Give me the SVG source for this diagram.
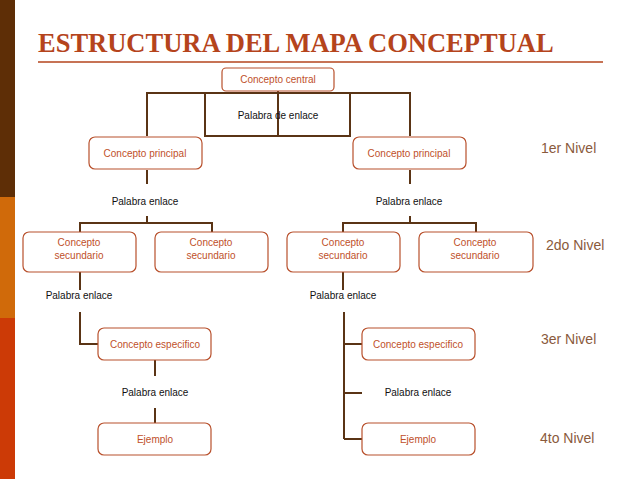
<svg xmlns="http://www.w3.org/2000/svg" width="638" height="479" viewBox="0 0 638 479">
<style>
.b{fill:#fff;stroke:#b8502c;stroke-width:1.2}
.t{font-family:"Liberation Sans",Arial,sans-serif;font-size:10px;fill:#c0502a;text-anchor:middle}
.k{font-family:"Liberation Sans",Arial,sans-serif;font-size:10px;fill:#111;text-anchor:middle}
.n{font-family:"Liberation Sans",Arial,sans-serif;font-size:14px;fill:#8a5a3c}
.c{fill:none;stroke:#5a3415;stroke-width:2}
</style>
<rect width="638" height="479" fill="#fff"/>
<rect x="0" y="0" width="15" height="197" fill="#5e2e06"/>
<rect x="0" y="197" width="15" height="121" fill="#d06a0a"/>
<rect x="0" y="318" width="15" height="161" fill="#cc3a06"/>
<text x="38" y="52" font-family="'Liberation Serif',serif" font-weight="bold" font-size="26.5" fill="#b5441c">ESTRUCTURA DEL MAPA CONCEPTUAL</text>
<line x1="38" y1="62" x2="603" y2="62" stroke="#b5441c" stroke-width="1.5"/>
<g id="connectors" class="c">
<path d="M147 136V93H410V136M205 93V136H350V93M278 90V136"/>
<path d="M147 170V184M147 216V223M80 232V223H212V232M410 170V184M410 216V223M343 232V223H476V232"/>
<path d="M80 272V290M80 312V344H98M155 360V376M155 408V423"/>
<path d="M343 272V290M344 312V439M344 344H362M344 393H362M344 439H362"/>
</g>
<g id="central"><rect class="b" x="222" y="68" width="112" height="23" rx="4"/><text class="t" x="278" y="83">Concepto central</text></g>
<g id="pe0"><text class="k" x="278" y="119">Palabra de enlace</text></g>
<g id="p1"><rect class="b" x="89" y="137" width="113" height="32" rx="6"/><text class="t" x="145" y="157">Concepto principal</text></g>
<g id="p2"><rect class="b" x="353" y="137" width="113" height="32" rx="6"/><text class="t" x="409" y="157">Concepto principal</text></g>
<g id="pe1"><text class="k" x="145" y="205">Palabra enlace</text></g>
<g id="pe2"><text class="k" x="409" y="205">Palabra enlace</text></g>
<g id="s1"><rect class="b" x="23" y="232" width="113" height="40" rx="6"/><text class="t" x="79" y="246">Concepto</text><text class="t" x="79" y="259">secundario</text></g>
<g id="s2"><rect class="b" x="155" y="232" width="113" height="40" rx="6"/><text class="t" x="211" y="246">Concepto</text><text class="t" x="211" y="259">secundario</text></g>
<g id="s3"><rect class="b" x="287" y="232" width="113" height="40" rx="6"/><text class="t" x="343" y="246">Concepto</text><text class="t" x="343" y="259">secundario</text></g>
<g id="s4"><rect class="b" x="419" y="232" width="114" height="40" rx="6"/><text class="t" x="475" y="246">Concepto</text><text class="t" x="475" y="259">secundario</text></g>
<g id="pe3"><text class="k" x="79" y="299">Palabra enlace</text></g>
<g id="pe4"><text class="k" x="343" y="299">Palabra enlace</text></g>
<g id="e1"><rect class="b" x="98" y="328" width="113" height="32" rx="6"/><text class="t" x="155" y="348">Concepto especifico</text></g>
<g id="e2"><rect class="b" x="362" y="328" width="113" height="32" rx="6"/><text class="t" x="418" y="348">Concepto especifico</text></g>
<g id="pe5"><text class="k" x="155" y="396">Palabra enlace</text></g>
<g id="pe6"><text class="k" x="418" y="396">Palabra enlace</text></g>
<g id="x1"><rect class="b" x="98" y="423" width="113" height="32" rx="6"/><text class="t" x="155" y="443">Ejemplo</text></g>
<g id="x2"><rect class="b" x="362" y="423" width="113" height="32" rx="6"/><text class="t" x="418" y="443">Ejemplo</text></g>
<text class="n" x="541" y="153">1er Nivel</text>
<text class="n" x="546" y="250">2do Nivel</text>
<text class="n" x="541" y="344">3er Nivel</text>
<text class="n" x="540" y="443">4to Nivel</text>
</svg>
